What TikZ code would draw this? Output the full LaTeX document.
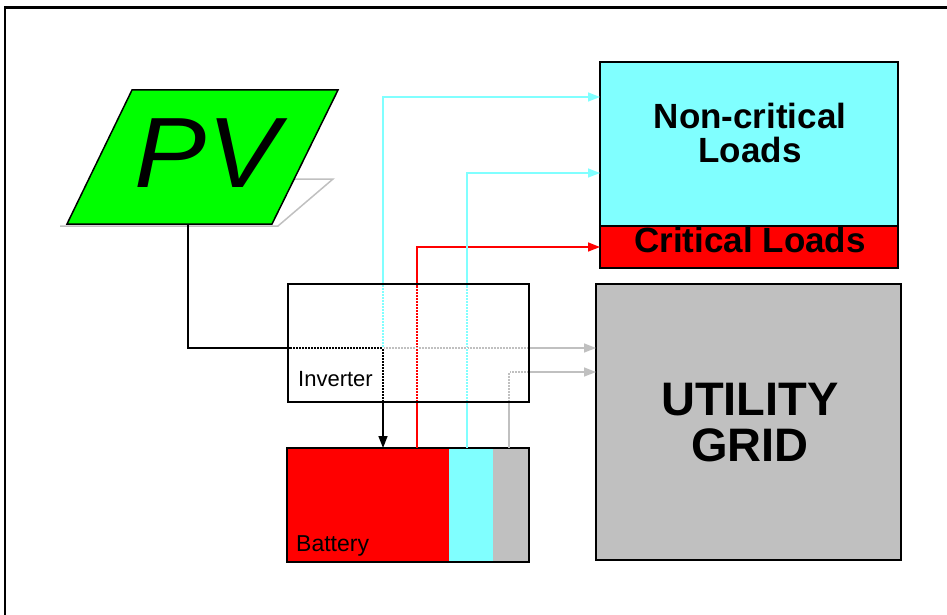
\documentclass[tikz,border=0pt]{standalone}
\usepackage{fontspec}
\setmainfont{Liberation Sans}
\usetikzlibrary{arrows.meta,calc}
\definecolor{cyanL}{RGB}{128,255,255}
\definecolor{grayL}{RGB}{192,192,192}
\definecolor{pvgreen}{RGB}{0,255,0}
\begin{document}
\begin{tikzpicture}[x=1pt,y=-1pt,
  box/.style={draw=black,line width=1.5pt,inner sep=0pt,outer sep=0pt,rectangle},
  conn/.style={line width=1.6pt,-{Triangle[length=12pt,width=9pt]}},
  plain/.style={line width=1.6pt},
  lbl/.style={inner sep=0pt,font=\fontsize{22}{22}\selectfont},
  big/.style={inner sep=0pt,align=center,font=\bfseries}]
\useasboundingbox (0,0) rectangle (947,615);
% frame
\draw[line width=3pt] (4,8) -- (947,8);
\draw[line width=2pt] (5,7) -- (5,615);
% PV panel with shadow
\draw[grayL,line width=1.5pt] (60,226) -- (278,226) -- (333,179) -- (292,179);
\filldraw[fill=pvgreen,draw=black,line width=1.5pt] (132,90) -- (338,90) -- (272,224) -- (67,224) -- cycle;
\node[inner sep=0pt,anchor=base,xscale=1.08,font=\fontsize{100}{100}\selectfont\itshape] (pv) at (207,187) {PV};
\coordinate (pvb) at (188,224);
% loads
\node[box,fill=cyanL,minimum width=298pt,minimum height=164pt] (ncl) at (749,144) {};
\node[box,fill=red,minimum width=298pt,minimum height=42pt] (cl) at (749,247) {};
\node[big,font=\fontsize{35}{34}\selectfont\bfseries] (nclt) at (750,133) {Non-critical\\Loads};
\node[big,font=\fontsize{35}{34}\selectfont\bfseries] (clt) at (750,240) {Critical Loads};
% grid
\node[box,fill=grayL,minimum width=305pt,minimum height=276pt] (grid) at (748.5,422) {};
\node[big,font=\fontsize{47}{46}\selectfont\bfseries] (gridt) at (750,422.5) {UTILITY\\GRID};
% battery
\fill[red] (287,448) rectangle (449,562);
\fill[cyanL] (449,448) rectangle (493,562);
\fill[grayL] (493,448) rectangle (529,562);
\node[box,minimum width=242pt,minimum height=114pt] (bat) at (408,505) {};
\node[lbl,anchor=base west,font=\fontsize{23}{23}\selectfont] (batt) at (296,551) {Battery};
% inverter
\node[box,minimum width=241pt,minimum height=118pt] (inv) at (408.5,343) {};
\node[lbl,anchor=base west] (invt) at (298,386) {Inverter};
\coordinate (j) at (383,348);
% connectors
\draw[plain] (pvb) |- (j);
\draw[conn,cyanL] (j) |- ([yshift=47pt]ncl.west);
\draw[conn,red] ([xshift=130pt]bat.north west) |- (cl.west);
\draw[conn,cyanL] ([xshift=180pt]bat.north west) |- ([yshift=-29pt]ncl.west);
\draw[conn,grayL] ([xshift=222pt]bat.north west) |- ([yshift=50pt]grid.west);
\draw[conn,grayL] (j) -- (grid.west |- j);
\draw[conn,black] (j) -- (bat.north -| j);
% dotted look inside the inverter
\begin{scope}
\clip (290,286) rectangle (527,400);
\tikzset{dotover/.style={white,line width=2.5pt,dash pattern=on 1.2pt off 1.8pt}}
\draw[dotover] (pvb) |- (j) -- (grid.west |- j);
\draw[dotover] (j) |- ([yshift=47pt]ncl.west);
\draw[dotover] (j) -- (bat.north -| j);
\draw[dotover] ([xshift=130pt]bat.north west) |- (cl.west);
\draw[dotover] ([xshift=180pt]bat.north west) |- ([yshift=-29pt]ncl.west);
\draw[dotover] ([xshift=222pt]bat.north west) |- ([yshift=50pt]grid.west);
\end{scope}
\draw[line width=1.5pt] (inv.north west) rectangle (inv.south east);
\end{tikzpicture}
\end{document}
